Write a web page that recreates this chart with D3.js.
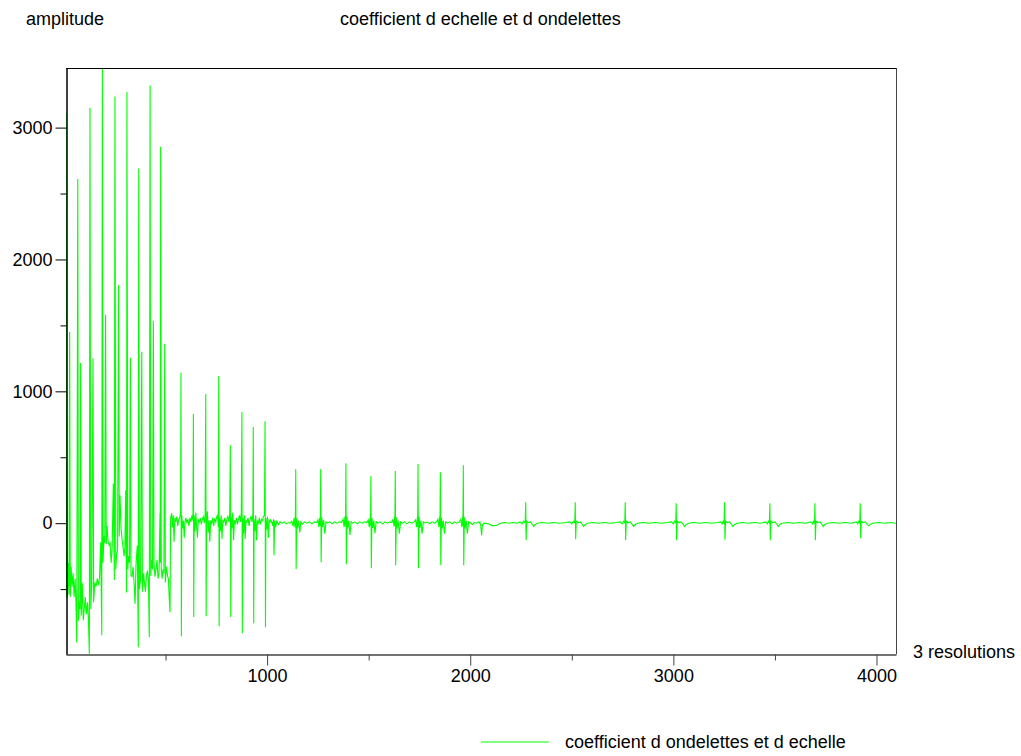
<!DOCTYPE html>
<html>
<head>
<meta charset="utf-8">
<script src="https://cdn.jsdelivr.net/npm/d3@7"></script>
<style>
  body { margin: 0; background: #fff; }
  text { font-family: "Liberation Sans", Arial, sans-serif; font-size: 18px; fill: #000; }
</style>
</head>
<body>
<div class="chart"></div>
<script>
// tick values
var xTicksMajor = [1000, 2000, 3000, 4000];
var xTicksMinor = [500, 1500, 2500, 3500];
var yTicksMajor = [0, 1000, 2000, 3000];
var yTicksMinor = [-500, 500, 1500, 2500];

// scale coefficients (first 512 samples), [index, value]
var approxCoef = [
  [10,-570],[11,3110],[14,-200],[17,-560],[22,-300],[25,-540],[28,1450],[31,-560],[35,-330],[40,-480],
  [45,-380],[50,-560],[55,-420],[59,-600],[63,-905],[68,2610],[71,-740],[75,-600],[79,-650],[82,1215],
  [85,-700],[90,-455],[95,-735],[100,-650],[105,-560],[110,-690],[116,-600],[121,-760],[125,-990],[128,3150],
  [132,-650],[137,-450],[143,1250],[146,-600],[152,-450],[158,-480],[164,-420],[170,-470],[175,-410],[181,-145],
  [186,-850],[189,3450],[192,-300],[197,-100],[201,-150],[205,1580],[208,-160],[212,-20],[217,-140],[222,-165],
  [227,-150],[232,-300],[237,-200],[243,300],[248,-430],[251,3235],[255,-350],[259,-250],[264,-200],[269,1807],
  [272,-100],[276,212],[281,-40],[286,-120],[291,-185],[296,-250],[300,-180],[304,250],[308,-525],[310,3270],
  [314,-350],[318,-250],[323,-300],[327,1255],[330,-400],[335,-405],[340,-330],[345,-450],[350,-610],[355,-300],
  [361,-170],[366,-940],[368,2690],[371,-500],[377,-430],[383,1300],[386,-520],[392,-380],[396,-450],[401,-520],
  [406,-400],[411,-360],[416,-440],[420,-865],[424,3320],[427,-400],[431,-280],[436,-350],[440,1535],[443,-300],
  [448,-405],[453,-350],[458,-280],[463,-420],[468,-380],[473,75],[474,-300],[476,2855],[479,-350],[483,-420],
  [488,-350],[492,-380],[496,1360],[499,-450],[505,-330],[510,-400],[514,-420],[518,-560],[522,-675]
];

// wavelet coefficients, resolution 3 (512..1024)
var detail3 = [
  [525,38],[530,75],[534,-30],[538,60],[542,-140],[546,40],[550,10],[555,50],[560,-20],[565,30],
  [570,40],[574,80],[576,1140],[578,-858],[580,60],[584,-40],[588,20],[592,-110],[596,10],[600,40],
  [605,0],[610,30],[615,-20],[620,40],[625,10],[630,60],[635,20],[637,828],[639,-712],[641,60],
  [645,-60],[649,80],[653,-30],[657,-110],[661,30],[666,10],[671,40],[676,-10],[681,30],[686,50],
  [691,0],[695,70],[698,980],[700,-706],[702,30],[706,90],[710,-70],[714,20],[718,-140],[722,20],
  [727,0],[732,40],[737,-20],[742,30],[747,10],[752,50],[756,60],[760,-30],[762,1116],[764,-782],
  [766,40],[770,-60],[774,60],[778,-120],[782,20],[787,10],[792,40],[797,-20],[802,30],[807,50],
  [812,10],[816,70],[819,592],[821,-712],[823,50],[827,-40],[831,80],[835,-130],[839,20],[844,0],
  [849,40],[854,-10],[859,30],[864,60],[869,10],[873,80],[876,843],[878,-835],[880,40],[884,-80],
  [888,60],[892,-120],[896,20],[901,10],[906,40],[911,-20],[916,30],[921,50],[926,10],[930,70],
  [932,729],[934,-759],[936,30],[940,-60],[944,60],[948,-130],[952,20],[957,0],[962,40],[967,-10],
  [972,30],[977,20],[982,50],[987,60],[990,774],[992,-790],[994,40],[998,-50],[1002,50],[1006,-110],
  [1010,20],[1014,10],[1018,30],[1022,0]
];

// wavelet coefficients, resolution 2 (1024..2048)
var detail2 = [
  [1024,10],[1028,-20],[1032,30],[1034,-243],[1037,20],[1042,-30],[1048,15],[1056,-10],[1064,10],[1074,0],
  [1084,10],[1094,-5],[1104,5],[1114,0],[1122,15],[1128,-25],[1133,40],[1137,-30],[1139,30],[1141,410],
  [1143,-349],[1146,35],[1150,-40],[1155,20],[1161,-70],[1166,10],[1174,-5],[1184,10],[1196,0],[1208,10],
  [1220,-5],[1232,10],[1244,5],[1250,25],[1255,-30],[1259,40],[1262,-20],[1264,410],[1266,-296],[1269,45],
  [1273,-30],[1278,25],[1284,-80],[1290,10],[1298,0],[1308,10],[1320,-5],[1332,10],[1344,0],[1356,10],
  [1366,5],[1374,30],[1379,-30],[1383,50],[1386,-20],[1388,455],[1390,-311],[1393,50],[1397,-40],[1402,20],
  [1408,-90],[1414,10],[1422,0],[1432,10],[1444,-5],[1456,10],[1468,0],[1480,10],[1490,5],[1498,25],
  [1503,-30],[1507,45],[1509,-20],[1511,357],[1513,-341],[1516,40],[1520,-35],[1525,20],[1531,-75],[1537,10],
  [1546,0],[1556,10],[1568,-5],[1580,10],[1592,0],[1604,10],[1614,5],[1620,30],[1625,-25],[1628,50],
  [1629,-20],[1631,395],[1633,-319],[1636,45],[1640,-40],[1645,20],[1651,-80],[1657,10],[1666,0],[1676,10],
  [1688,-5],[1700,10],[1712,0],[1724,10],[1731,25],[1736,-30],[1740,45],[1741,-25],[1743,448],[1745,-341],
  [1748,50],[1752,-35],[1757,20],[1763,-80],[1769,10],[1778,0],[1788,10],[1800,-5],[1812,10],[1824,0],
  [1834,10],[1841,30],[1846,-30],[1850,50],[1851,-20],[1853,387],[1855,-319],[1858,40],[1862,-40],[1867,20],
  [1873,-80],[1879,10],[1888,0],[1898,10],[1910,-5],[1922,10],[1934,0],[1946,10],[1954,30],[1959,-30],
  [1963,50],[1964,-20],[1966,440],[1968,-319],[1971,45],[1975,-40],[1980,20],[1986,-80],[1992,10],[2000,5],
  [2010,-10],[2020,5],[2030,0],[2040,10],[2046,0]
];

// wavelet coefficients, resolution 1 (2048..4096)
var detail1 = [
  [2048,5],[2052,-20],[2056,-91],[2060,-10],[2070,0],[2090,-5],[2110,-20],[2130,-15],[2150,0],[2170,5],
  [2190,0],[2210,5],[2230,0],[2245,10],[2255,-5],[2262,15],[2268,5],[2271,20],[2273,159],[2275,-129],
  [2278,15],[2284,5],[2296,10],[2306,-10],[2312,-25],[2320,-10],[2332,0],[2350,5],[2380,0],[2410,5],
  [2440,0],[2470,5],[2490,10],[2500,-5],[2508,15],[2513,5],[2515,20],[2517,159],[2519,-121],[2522,15],
  [2530,5],[2542,10],[2552,-10],[2558,-25],[2566,-10],[2578,0],[2600,5],[2630,0],[2660,5],[2690,0],
  [2720,5],[2738,10],[2748,-5],[2755,15],[2760,5],[2761,20],[2763,159],[2765,-129],[2768,15],[2776,5],
  [2788,10],[2798,-10],[2804,-25],[2812,-10],[2824,0],[2850,5],[2880,0],[2910,5],[2940,0],[2970,5],
  [2990,10],[3000,-5],[3006,15],[3010,5],[3012,20],[3014,152],[3016,-129],[3019,15],[3027,5],[3039,10],
  [3049,-10],[3055,-25],[3063,-10],[3075,0],[3100,5],[3130,0],[3160,5],[3190,0],[3220,5],[3232,10],
  [3240,-5],[3245,15],[3249,5],[3250,20],[3252,159],[3254,-125],[3257,15],[3265,5],[3277,10],[3287,-10],
  [3293,-25],[3301,-10],[3313,0],[3340,5],[3370,0],[3400,5],[3430,0],[3455,10],[3463,-5],[3468,15],
  [3472,5],[3473,20],[3475,152],[3477,-129],[3480,15],[3488,5],[3500,10],[3510,-10],[3516,-25],[3524,-10],
  [3536,0],[3560,5],[3590,0],[3620,5],[3650,0],[3677,10],[3685,-5],[3690,15],[3694,5],[3695,20],
  [3697,152],[3699,-129],[3702,15],[3710,5],[3722,10],[3732,-10],[3738,-25],[3746,-10],[3758,0],[3785,5],
  [3815,0],[3845,5],[3875,0],[3900,10],[3908,-5],[3913,15],[3917,5],[3918,20],[3920,152],[3922,-114],
  [3925,15],[3933,5],[3945,10],[3955,-10],[3961,-20],[3969,-10],[3981,0],[4010,5],[4040,0],[4070,5],
  [4096,0]
];

var series = approxCoef.concat(detail3, detail2, detail1);

var svgWidth = 1021;
var svgHeight = 756;
var margin = { top: 68, right: 125, bottom: 102, left: 66 };
var width = svgWidth - margin.left - margin.right;
var height = svgHeight - margin.top - margin.bottom;

var svg = d3.select(".chart")
  .append("svg")
  .attr("width", svgWidth)
  .attr("height", svgHeight);

var chart = svg.append("g")
  .attr("transform", "translate(" + margin.left + "," + margin.top + ")");

var xScale = d3.scaleLinear().domain([10, 4096]).range([0, width]);
var yScale = d3.scaleLinear().domain([-992, 3452]).range([height, 0]);

chart.append("clipPath").attr("id", "plot-clip")
  .append("rect")
  .attr("width", width)
  .attr("height", height);

var line = d3.line()
  .x(function(d) { return xScale(d[0]); })
  .y(function(d) { return yScale(d[1]); });

chart.append("path")
  .datum(series)
  .attr("clip-path", "url(#plot-clip)")
  .attr("fill", "none")
  .attr("stroke", "#00ff00")
  .attr("stroke-width", 1.1)
  .attr("d", line);

// frame: top and right
chart.append("line")
  .attr("x1", 0).attr("x2", width).attr("y1", 0.5).attr("y2", 0.5)
  .attr("stroke", "#000");
chart.append("line")
  .attr("x1", width + 0.5).attr("x2", width + 0.5).attr("y1", 0).attr("y2", height)
  .attr("stroke", "#444");

var fmt = d3.format("d");

// x axis
chart.append("g")
  .attr("class", "x-axis")
  .attr("transform", "translate(0," + (height + 0.5) + ")")
  .call(d3.axisBottom(xScale).tickValues(xTicksMajor).tickSize(11).tickSizeOuter(0).tickPadding(4).tickFormat(fmt));
chart.append("g")
  .attr("class", "x-axis")
  .attr("transform", "translate(0," + (height + 0.5) + ")")
  .call(d3.axisBottom(xScale).tickValues(xTicksMinor).tickSize(6).tickSizeOuter(0).tickFormat(""));

// y axis
chart.append("g")
  .attr("class", "y-axis")
  .attr("transform", "translate(0.5,0)")
  .call(d3.axisLeft(yScale).tickValues(yTicksMajor).tickSize(11).tickSizeOuter(0).tickPadding(3).tickFormat(fmt));
chart.append("g")
  .attr("transform", "translate(0.5,0)")
  .call(d3.axisLeft(yScale).tickValues(yTicksMinor).tickSize(6).tickSizeOuter(0).tickFormat(""));

chart.selectAll(".x-axis path, .x-axis line").attr("stroke", "#444");
chart.selectAll("g text")
  .style("font-family", "'Liberation Sans', Arial, sans-serif")
  .style("font-size", "18px")
  .attr("fill", "#000");

// titles and labels
svg.append("text").attr("x", 26).attr("y", 25).text("amplitude");
svg.append("text").attr("x", 340).attr("y", 25).text("coefficient d echelle et d ondelettes");
svg.append("text").attr("x", 913).attr("y", 658).text("3 resolutions");

// legend
svg.append("line")
  .attr("x1", 481).attr("x2", 549).attr("y1", 742).attr("y2", 742)
  .attr("stroke", "#00ff00");
svg.append("text").attr("x", 565).attr("y", 748).text("coefficient d ondelettes et d echelle");
</script>
</body>
</html>
